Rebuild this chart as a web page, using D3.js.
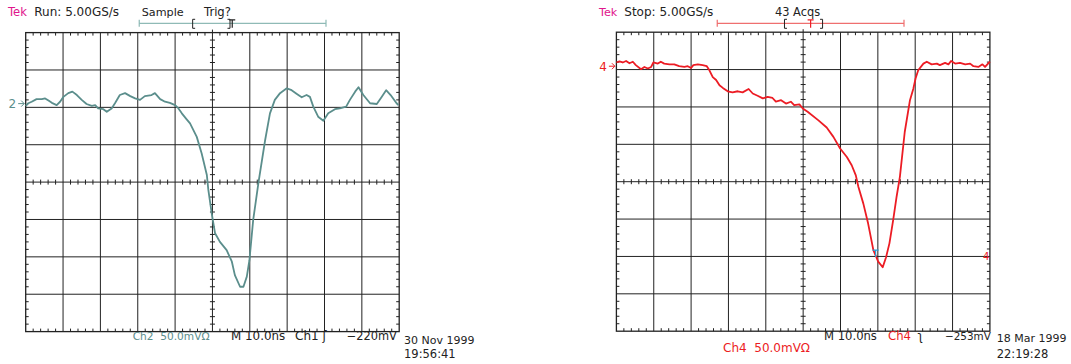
<!DOCTYPE html>
<html>
<head>
<meta charset="utf-8">
<script src="https://cdn.jsdelivr.net/npm/d3@7"></script>
<style>
  body { margin: 0; background: #fff; }
  svg { display: block; }
  text { font-family: "DejaVu Sans", sans-serif; font-size: 12px; fill: #222; white-space: pre; }
</style>
</head>
<body>
<div id="chart"></div>
<script>
// traces in screen divisions: [time div 0..10, volt div -4..4]
var ch2Trace = [
  [0,2.04],[0.07,2.11],[0.16,2.15],[0.29,2.22],[0.43,2.22],[0.52,2.24],[0.61,2.18],[0.70,2.12],
  [0.83,2.06],[0.92,2.15],[1.01,2.28],[1.14,2.38],[1.25,2.42],[1.37,2.33],[1.50,2.20],[1.63,2.09],
  [1.77,2.04],[1.86,2.06],[1.94,1.97],[2.08,1.95],[2.17,1.88],[2.30,1.97],[2.39,2.11],[2.52,2.33],
  [2.66,2.38],[2.80,2.30],[2.93,2.24],[3.06,2.20],[3.19,2.30],[3.37,2.33],[3.46,2.38],[3.60,2.22],
  [3.73,2.15],[3.86,2.12],[4.00,2.06],[4.09,1.97],[4.18,1.84],[4.31,1.68],[4.40,1.57],[4.58,1.21],
  [4.71,0.77],[4.85,0.19],[4.89,-0.21],[4.98,-0.84],[5.07,-1.37],[5.20,-1.60],[5.38,-1.82],
  [5.52,-2.13],[5.60,-2.49],[5.74,-2.80],[5.83,-2.80],[5.92,-2.53],[5.99,-2.09],[6.09,-1.02],
  [6.23,-0.03],[6.41,1.12],[6.54,1.84],[6.67,2.20],[6.81,2.38],[6.99,2.51],[7.12,2.46],[7.26,2.36],
  [7.39,2.27],[7.52,2.33],[7.61,2.28],[7.70,2.02],[7.83,1.75],[7.97,1.64],[8.10,1.84],[8.28,1.95],
  [8.41,1.97],[8.58,2.02],[8.68,2.20],[8.82,2.42],[8.91,2.54],[9.04,2.33],[9.22,2.11],[9.40,2.09],
  [9.53,2.28],[9.65,2.46],[9.77,2.33],[9.93,2.11],[9.98,2.06]
];
var ch4Trace = [
  [0.00,3.19],[0.08,3.22],[0.17,3.19],[0.26,3.23],[0.35,3.17],[0.44,3.21],[0.52,3.12],[0.66,3.01],
  [0.75,3.07],[0.84,3.03],[0.93,3.07],[0.99,3.19],[1.11,3.16],[1.19,3.21],[1.28,3.16],[1.42,3.14],
  [1.55,3.14],[1.68,3.09],[1.82,3.07],[1.91,3.09],[2.00,3.04],[2.06,3.12],[2.18,3.14],[2.31,3.12],
  [2.42,3.09],[2.49,2.98],[2.58,2.80],[2.67,2.72],[2.76,2.58],[2.85,2.51],[2.98,2.42],[3.11,2.39],
  [3.25,2.42],[3.38,2.39],[3.54,2.48],[3.65,2.36],[3.78,2.30],[3.92,2.23],[4.05,2.27],[4.18,2.24],
  [4.27,2.14],[4.41,2.18],[4.54,2.09],[4.67,2.14],[4.76,2.05],[4.90,2.07],[4.99,1.96],[5.12,1.87],
  [5.41,1.64],[5.63,1.45],[5.81,1.20],[5.99,0.89],[6.17,0.66],[6.30,0.44],[6.41,0.17],[6.48,-0.14],
  [6.61,-0.58],[6.74,-1.12],[6.88,-1.83],[7.01,-2.14],[7.13,-2.29],[7.22,-2.02],[7.31,-1.65],
  [7.41,-1.03],[7.50,-0.41],[7.59,0.13],[7.72,1.33],[7.86,2.18],[7.95,2.49],[8.01,2.76],[8.08,2.98],
  [8.22,3.16],[8.31,3.21],[8.44,3.14],[8.58,3.16],[8.66,3.12],[8.80,3.18],[8.89,3.14],[8.96,3.23],
  [9.07,3.16],[9.20,3.18],[9.34,3.14],[9.47,3.16],[9.56,3.09],[9.69,3.07],[9.80,3.14],[9.87,3.07],
  [10.0,3.21]
];
var ch2Header = ["Run: 5.00GS/s", "Sample", "Trig?"];
var ch4Header = ["Stop: 5.00GS/s", "43 Acqs"];
var ch2Footer = ["Ch2  50.0mV\u03A9", "M 10.0ns", "Ch1", "\u0283", "\u2212220mV", "30 Nov 1999", "19:56:41"];
var ch4Footer = ["Ch4  50.0mV\u03A9", "M 10.0ns", "Ch4", "\u0285", "\u2212253mV", "18 Mar 1999", "22:19:28"];
var ch2Level = 2.1;     // ground marker, divisions
var ch4Level = 3.09;
var trigBar2 = [3.04, 8.04, 4.47, 5.47, 5.53]; // start, end, [, ], T (divisions)
var trigBar4 = [2.7, 7.7, 4.5, 5.52, 5.2];

var myApp = {};
(function(context) {

    var svg;
    var tek = "#e0168c";

    context.init = function(name) {
        svg = d3.select(name).append("svg")
            .attr("width", 1071)
            .attr("height", 364);
    }

    context.scope = function(p) {
        var x = d3.scaleLinear().domain([0, 10]).range([p.left, p.left + 373.5]);
        var y = d3.scaleLinear().domain([-4, 4]).range([p.top + 299, p.top]);
        var g = svg.append("g");

        // grid
        g.selectAll(".vg").data(d3.range(1, 10)).enter().append("line")
            .attr("x1", d => x(d)).attr("x2", d => x(d))
            .attr("y1", y(4)).attr("y2", y(-4))
            .attr("stroke", "#222").attr("stroke-width", 1);
        g.selectAll(".hg").data(d3.range(-3, 4)).enter().append("line")
            .attr("y1", d => y(d)).attr("y2", d => y(d))
            .attr("x1", x(0)).attr("x2", x(10))
            .attr("stroke", "#222").attr("stroke-width", 1);
        g.append("rect")
            .attr("x", x(0)).attr("y", y(4))
            .attr("width", x(10) - x(0)).attr("height", y(-4) - y(4))
            .attr("fill", "none").attr("stroke", "#222").attr("stroke-width", 1.3);

        // minor ticks every 1/5 div
        var tx = d3.range(0, 50).map(i => i * 0.2).filter(v => Math.abs(v - Math.round(v)) > 0.01);
        var ty = d3.range(-20, 20).map(i => i * 0.2).filter(v => Math.abs(v - Math.round(v)) > 0.01);
        var tk = [];
        tx.forEach(function(v) {
            tk.push([x(v), y(4), x(v), y(4) + 3]);
            tk.push([x(v), y(-4), x(v), y(-4) - 3]);
            tk.push([x(v), y(0) - 2.5, x(v), y(0) + 2.5]);
        });
        ty.forEach(function(v) {
            tk.push([x(0), y(v), x(0) + 3, y(v)]);
            tk.push([x(10), y(v), x(10) - 3, y(v)]);
            tk.push([x(5) - 2.5, y(v), x(5) + 2.5, y(v)]);
        });
        tk.push([x(5), y(4) - 3, x(5), y(4)]);
        g.selectAll(".tk").data(tk).enter().append("line")
            .attr("x1", d => d[0]).attr("y1", d => d[1])
            .attr("x2", d => d[2]).attr("y2", d => d[3])
            .attr("stroke", "#222").attr("stroke-width", 1);

        // trace
        var line = d3.line().x(d => x(d[0])).y(d => y(d[1]));
        g.append("path")
            .datum(p.trace)
            .attr("d", line)
            .attr("fill", "none")
            .attr("stroke", p.color)
            .attr("stroke-width", 1.8)
            .attr("stroke-linejoin", "round");

        // ground marker
        var gy = y(p.level);
        g.append("text").attr("x", x(0) - 9.5).attr("y", gy + 4.3)
            .attr("text-anchor", "end").style("fill", p.color).text(p.levelText);
        g.append("path")
            .attr("d", "M" + (x(0) - 7.5) + "," + gy + "H" + (x(0) - 1.5) +
                  "M" + (x(0) - 4.5) + "," + (gy - 3) + "l3,3l-3,3")
            .attr("fill", "none").attr("stroke", p.color).attr("stroke-width", 1);

        // trigger position bar
        var b = p.bar, by = 23.3;
        g.append("path")
            .attr("d", "M" + x(b[0]) + "," + by + "H" + x(b[1]) +
                  "M" + x(b[0]) + "," + (by - 3.5) + "v7" +
                  "M" + x(b[1]) + "," + (by - 3.5) + "v7")
            .attr("fill", "none").attr("stroke", p.barColor).attr("stroke-width", 1.2);
        g.append("path")
            .attr("d", "M" + (x(b[2]) + 2.5) + "," + (by - 4) + "h-2.5v9h2.5" +
                  "M" + (x(b[3]) - 2.5) + "," + (by - 4) + "h2.5v9h-2.5")
            .attr("fill", "none").attr("stroke", "#222").attr("stroke-width", 1);
        g.append("path")
            .attr("d", "M" + (x(b[4]) - 3) + "," + (by - 3.5) + "h6M" + x(b[4]) + "," + (by - 3.5) + "v8")
            .attr("fill", "none").attr("stroke", p.tColor).attr("stroke-width", 1.2);

        return {x: x, y: y, g: g};
    }

    // [text, x, baseline, font size, colour]
    context.text = function(items) {
        svg.selectAll(null).data(items).enter().append("text")
            .attr("x", d => d[1]).attr("y", d => d[2])
            .style("font-size", d => d[3] + "px")
            .style("fill", d => d[4] || "#222")
            .text(d => d[0]);
    }

    context.build = function() {
        var teal = "#5b8e8c", red = "#ec1c24";
        context.scope({left: 25.7, top: 32.6, trace: ch2Trace, color: teal, level: ch2Level,
            levelText: "2", bar: trigBar2, barColor: "#8fbab6", tColor: "#222"});
        var s4 = context.scope({left: 616.4, top: 32.2, trace: ch4Trace, color: red, level: ch4Level,
            levelText: "4", bar: trigBar4, barColor: "#ef6f6f", tColor: red});

        // cyan trigger level marker and right-hand ch4 marker
        s4.g.append("path")
            .attr("d", "M" + (s4.x(6.94) - 3) + "," + (s4.y(-1.83)) + "h6M" + s4.x(6.94) + "," +
                  (s4.y(-1.83)) + "v7")
            .attr("fill", "none").attr("stroke", "#2aa0d8").attr("stroke-width", 1.2);
        s4.g.append("text").attr("x", s4.x(10) - 7).attr("y", s4.y(-2) + 4)
            .style("fill", red).style("font-size", "10px").text("4");

        context.text([
            ["Tek", 8, 16, 11.6, tek], [ch2Header[0], 34.3, 16, 12], [ch2Header[1], 141.7, 16, 11.2],
            [ch2Header[2], 204, 16, 11.6],
            ["Tek", 599, 16, 11.2, tek], [ch4Header[0], 624.3, 16, 12], [ch4Header[1], 775, 16, 11.4],
            [ch2Footer[0], 132.7, 340, 10.6, teal], [ch2Footer[1], 231, 340, 11.9],
            [ch2Footer[2], 295, 340, 12], [ch2Footer[3], 322.5, 340, 12],
            [ch2Footer[4], 346.7, 340, 11.4], [ch2Footer[5], 404, 344, 11], [ch2Footer[6], 404, 357.5, 11.5],
            [ch4Footer[0], 723, 351.5, 12, red], [ch4Footer[1], 824, 340, 11.6],
            [ch4Footer[2], 888, 340, 11.7, red], [ch4Footer[3], 917.5, 340, 12],
            [ch4Footer[4], 945, 340, 10.4], [ch4Footer[5], 996.7, 342, 11], [ch4Footer[6], 996.7, 357.5, 11.5]
        ]);
    }

})(myApp);

myApp.init("#chart");
myApp.build();
</script>
</body>
</html>
